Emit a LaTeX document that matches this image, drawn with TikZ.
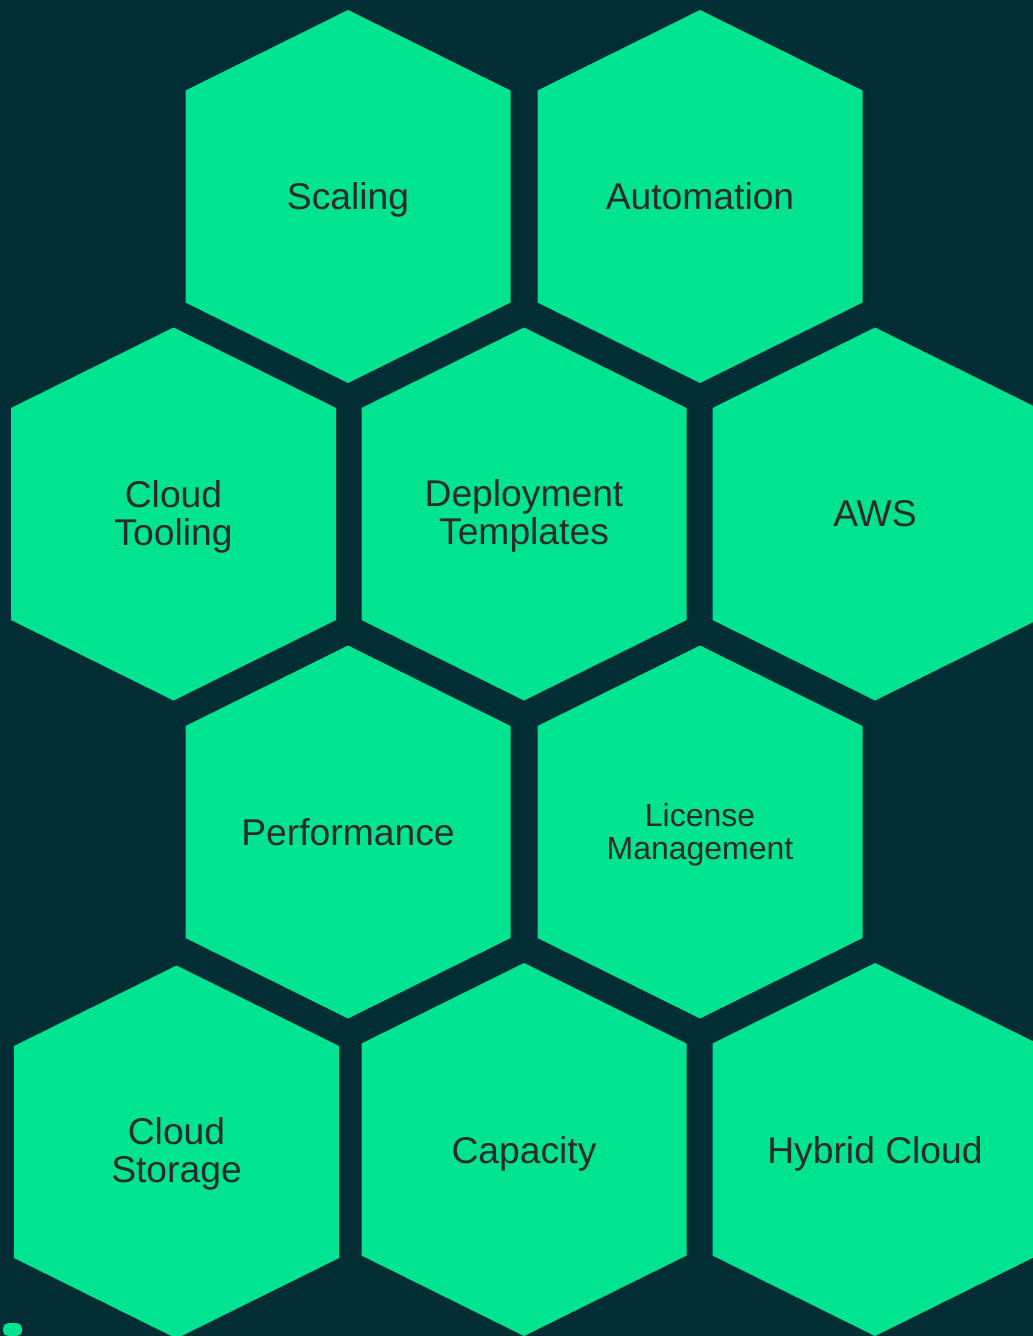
\documentclass[tikz,border=0pt]{standalone}
\usepackage{fontspec}
\setmainfont{Liberation Sans}
\definecolor{bgteal}{HTML}{012E34}
\definecolor{hexgreen}{HTML}{00E391}
\definecolor{labgrey}{HTML}{2B2B2B}
\tikzset{hex/.style={fill=hexgreen}}
\tikzset{l/.style={font=\fontsize{21.2}{21.6}\selectfont,text=labgrey,align=center}}
\tikzset{m/.style={font=\fontsize{18.2}{19}\selectfont,text=labgrey,align=center}}

\begin{document}
\begin{tikzpicture}[x=0.02cm,y=-0.02cm]
            \fill[bgteal](0,0) rectangle (1033,1336);
            \useasboundingbox (0,0) rectangle (1033,1336);
            % the cells, centre x / centre y
            \foreach \cx/\cy in {348/196.5,700/196.5,173.5/514,524/514,875/514,348/832,700/832,176.5/1152,524/1149.5,875/1149.5}
              \fill[hex](\cx,\cy) ++(0,-186.5) -- ++(162.5,80.5) -- ++(0,212) -- ++(-162.5,80.5) -- ++(-162.5,-80.5) -- ++(0,-212) -- cycle;
            \fill[hex,rounded corners=3](3,1336) -- (3,1323) -- (22,1323) -- (22,1336) -- cycle;
            \node[l] (scaling) at (348,200) {Scaling};
            \node[l] (automation) at (700,196) {Automation};
            \node[l] (tooling) at (173.5,516.5) {Cloud\\Tooling};
            \node[l] (deploy) at (524,515.5) {Deployment\\Templates};
            \node[l] (aws) at (875,514) {AWS};
            \node[l] (perf) at (348,832) {Performance};
            \node[m] (license) at (700,835) {License\\Management};
            \node[l] (storage) at (176.5,1154) {Cloud\\Storage};
            \node[l] (capacity) at (524,1154) {Capacity};
            \node[l] (hybrid) at (875,1154) {Hybrid Cloud};
          \end{tikzpicture}
\end{document}
